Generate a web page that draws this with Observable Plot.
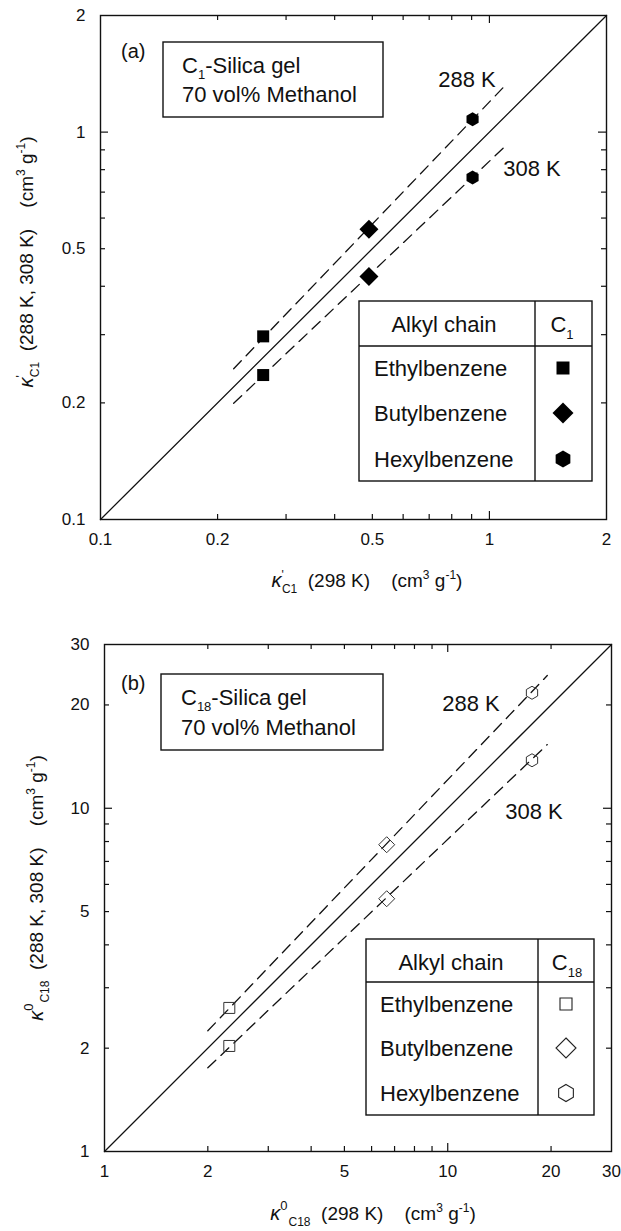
<!DOCTYPE html>
<html><head><meta charset="utf-8">
<script src="https://cdn.jsdelivr.net/npm/d3@7"></script>
<script src="https://cdn.jsdelivr.net/npm/@observablehq/plot@0.6"></script>
<style>
html,body{margin:0;padding:0;background:#fff;overflow:hidden}
#chart svg{display:block}
</style></head><body><div id="chart"></div>
<script>
// ---------- data ----------
const chains = ["Ethylbenzene", "Butylbenzene", "Hexylbenzene"];
const chainSymbols = ["square", "diamond", "hexagon"];

// (a) C1-silica gel
const c1_k298 = [0.262, 0.490, 0.905];
const c1_k288 = [0.297, 0.561, 1.079];
const c1_k308 = [0.236, 0.424, 0.764];
const c1_fitX   = [0.22, 1.11];
const c1_fit288 = [0.245, 1.335];
const c1_fit308 = [0.1995, 0.929];
const c1_domain = [0.1, 2];
const c1_minorTicks = [0.2, 0.3, 0.4, 0.5, 0.6, 0.7, 0.8, 0.9];
const c1_majorTicks = [1];
const c1_tickLabels = [0.1, 0.2, 0.5, 1, 2];

// (b) C18-silica gel
const c18_k298 = [2.31, 6.64, 17.6];
const c18_k288 = [2.62, 7.83, 21.7];
const c18_k308 = [2.03, 5.45, 13.8];
const c18_fitX   = [2.0, 19.5];
const c18_fit288 = [2.247, 24.36];
const c18_fit308 = [1.753, 15.33];
const c18_domain = [1, 30];
const c18_minorTicks = [2, 3, 4, 5, 6, 7, 8, 9, 20];
const c18_majorTicks = [10];
const c18_tickLabels = [1, 2, 5, 10, 20, 30];

// ---------- helpers ----------
const FONT = "'Liberation Sans', Arial, Helvetica, sans-serif";
function sym(kind) {
  return {draw(ctx, size) {
    const r = Math.sqrt(size / Math.PI);
    if (kind === "square") { ctx.moveTo(-r, -r); ctx.lineTo(r, -r); ctx.lineTo(r, r); ctx.lineTo(-r, r); ctx.closePath(); }
    else if (kind === "diamond") { ctx.moveTo(0, -r); ctx.lineTo(r, 0); ctx.lineTo(0, r); ctx.lineTo(-r, 0); ctx.closePath(); }
    else { for (let k = 0; k < 6; k++) { const a = -Math.PI / 2 + k * Math.PI / 3; const px = r * Math.cos(a), py = r * Math.sin(a); if (k) ctx.lineTo(px, py); else ctx.moveTo(px, py); } ctx.closePath(); }
  }};
}
function symPath(kind, r) { const p = d3.path(); sym(kind).draw(p, Math.PI * r * r); return p.toString(); }

function panel(o) {
  const W = 621;
  const iw = W - o.ml - o.mr, ih = o.height - o.mt - o.mb;
  const tk = {stroke: "#111", strokeWidth: 1.2};
  const marks = [
    Plot.frame({stroke: "#111", strokeWidth: 1.4}),
    Plot.tickX(o.minor, {x: d => d, insetTop: ih - 5, ...tk}),
    Plot.tickX(o.minor, {x: d => d, insetBottom: ih - 5, ...tk}),
    Plot.tickX(o.major, {x: d => d, insetTop: ih - 8, ...tk}),
    Plot.tickX(o.major, {x: d => d, insetBottom: ih - 8, ...tk}),
    Plot.tickY(o.minor, {y: d => d, insetRight: iw - 5, ...tk}),
    Plot.tickY(o.minor, {y: d => d, insetLeft: iw - 5, ...tk}),
    Plot.tickY(o.major, {y: d => d, insetRight: iw - 8, ...tk}),
    Plot.tickY(o.major, {y: d => d, insetLeft: iw - 8, ...tk}),
    Plot.axisX({ticks: o.labels, tickSize: 0, tickPadding: 13, tickFormat: d => String(d), label: null, fill: "#111", fontSize: 17}),
    Plot.axisY({ticks: o.labels, tickSize: 0, tickPadding: 15, tickFormat: d => String(d), label: null, fill: "#111", fontSize: 17}),
    Plot.line(o.domain.map(v => [v, v]), {x: d => d[0], y: d => d[1], stroke: "#111", strokeWidth: 1.3}),
    Plot.line(o.fitX.map((x, i) => [x, o.fit288[i]]), {x: d => d[0], y: d => d[1], stroke: "#111", strokeWidth: 1.3, strokeDasharray: "11,7"}),
    Plot.line(o.fitX.map((x, i) => [x, o.fit308[i]]), {x: d => d[0], y: d => d[1], stroke: "#111", strokeWidth: 1.3, strokeDasharray: "11,7"})
  ];
  chains.forEach((c, i) => {
    const pts = [[o.k298[i], o.k288[i]], [o.k298[i], o.k308[i]]];
    marks.push(Plot.dot(pts, {
      x: d => d[0], y: d => d[1], symbol: sym(chainSymbols[i]), r: o.dotR[i],
      fill: o.filled ? "#000" : "none", stroke: o.filled ? "none" : "#333", strokeWidth: 1
    }));
  });
  return Plot.plot({
    width: W, height: o.height,
    marginLeft: o.ml, marginRight: o.mr, marginTop: o.mt, marginBottom: o.mb,
    x: {type: "log", domain: o.domain},
    y: {type: "log", domain: o.domain},
    style: {fontFamily: FONT, fontSize: "17px", color: "#111", background: "#fff", overflow: "visible"},
    marks
  });
}

function addText(g, x, y, size, parts, anchor = "start", rotate = false) {
  const t = g.append("text")
    .attr("transform", `translate(${x},${y})` + (rotate ? " rotate(-90)" : ""))
    .attr("text-anchor", anchor).attr("font-size", size).attr("fill", "#111")
    .attr("font-family", FONT).attr("xml:space", "preserve").style("white-space", "pre");
  for (const p of parts) {
    const s = t.append("tspan").text(p.t);
    if (p.size) s.attr("font-size", p.size);
    if (p.dy) s.attr("dy", p.dy);
    if (p.dx) s.attr("dx", p.dx);
    if (p.italic) s.attr("font-style", "italic");
  }
  return t;
}

function decorate(svg, o) {
  const g = d3.select(svg).append("g");
  addText(g, o.letter.x, o.letter.y, 20, [{t: o.letter.t}]);
  g.append("rect").attr("x", o.box.x0).attr("y", o.box.y0).attr("width", o.box.x1 - o.box.x0).attr("height", o.box.y1 - o.box.y0)
    .attr("fill", "#fff").attr("stroke", "#111").attr("stroke-width", 1.4);
  addText(g, o.box.tx, o.box.b1, 22, [{t: "C"}, {t: o.phase, size: 13, dy: 6}, {t: "-Silica gel", dy: -6}]);
  addText(g, o.box.tx, o.box.b2, 22, [{t: "70 vol% Methanol"}]);
  addText(g, o.t288.x, o.t288.y, 22, [{t: "288 K"}], "middle");
  addText(g, o.t308.x, o.t308.y, 22, [{t: "308 K"}], "middle");
  const L = o.leg;
  g.append("rect").attr("x", L.x0).attr("y", L.y0).attr("width", L.x1 - L.x0).attr("height", L.y1 - L.y0)
    .attr("fill", "#fff").attr("stroke", "#111").attr("stroke-width", 1.4);
  g.append("line").attr("x1", L.x0).attr("x2", L.x1).attr("y1", L.hy).attr("y2", L.hy).attr("stroke", "#111").attr("stroke-width", 1.4);
  g.append("line").attr("x1", L.dx).attr("x2", L.dx).attr("y1", L.y0).attr("y2", L.y1).attr("stroke", "#111").attr("stroke-width", 1.4);
  addText(g, L.hx, L.hb, 22, [{t: "Alkyl chain"}], "middle");
  addText(g, L.cx, L.hb, 22, [{t: "C"}, {t: o.phase, size: 13, dy: 7}], "middle");
  chains.forEach((c, i) => {
    addText(g, L.tx, L.rows[i] + 8, 22, [{t: c}]);
    g.append("path").attr("transform", `translate(${L.sx},${L.rows[i]})`).attr("d", symPath(chainSymbols[i], L.symR[i]))
      .attr("fill", o.filled ? "#000" : "none").attr("stroke", o.filled ? "none" : "#222").attr("stroke-width", 1.1);
  });
  const kap = o.filled
    ? [{t: "κ", size: 20, italic: true}, {t: "'", size: 12, dy: -8}, {t: "C1", size: 12, dy: 14, dx: -2}]
    : [{t: "κ", size: 20, italic: true}, {t: "0", size: 13, dy: -10}, {t: "C18", size: 12, dy: 16, dx: 1}];
  const back = -6;
  addText(g, o.xt.x, o.xt.y, 19, [...kap, {t: "  (298 K)    (cm", dy: back}, {t: "3", size: 12, dy: -8}, {t: " g", dy: 8}, {t: "-1", size: 12, dy: -8}, {t: ")", dy: 8}], "middle");
  addText(g, o.yt.x, o.yt.y, 19, [...kap, {t: "  (288 K, 308 K)    (cm", dy: back}, {t: "3", size: 12, dy: -8}, {t: " g", dy: 8}, {t: "-1", size: 12, dy: -8}, {t: ")", dy: 8}], "middle", true);
}

// ---------- panel (a) ----------
const svgA = panel({
  height: 610, ml: 100, mr: 15, mt: 15, mb: 91,
  domain: c1_domain, minor: c1_minorTicks, major: c1_majorTicks, labels: c1_tickLabels,
  k298: c1_k298, k288: c1_k288, k308: c1_k308,
  fitX: c1_fitX, fit288: c1_fit288, fit308: c1_fit308,
  dotR: [6, 9.5, 7], filled: true
});
decorate(svgA, {
  filled: true, phase: "1",
  letter: {t: "(a)", x: 121, y: 58},
  box: {x0: 163, x1: 383, y0: 42, y1: 117, tx: 182, b1: 73, b2: 102},
  t288: {x: 467, y: 87}, t308: {x: 532, y: 176},
  leg: {x0: 359, x1: 592, y0: 301, y1: 481, hy: 346, dx: 535, hx: 444, cx: 562, hb: 332, tx: 374, sx: 563, rows: [368, 413, 459], symR: [6.5, 10.5, 8.5]},
  xt: {x: 367, y: 587}, yt: {x: 33, y: 262}
});

// ---------- panel (b) ----------
const svgB = panel({
  height: 621, ml: 104, mr: 10, mt: 34, mb: 80,
  domain: c18_domain, minor: c18_minorTicks, major: c18_majorTicks, labels: c18_tickLabels,
  k298: c18_k298, k288: c18_k288, k308: c18_k308,
  fitX: c18_fitX, fit288: c18_fit288, fit308: c18_fit308,
  dotR: [5.5, 8, 6.5], filled: false
});
decorate(svgB, {
  filled: false, phase: "18",
  letter: {t: "(b)", x: 121, y: 80},
  box: {x0: 161, x1: 383, y0: 64, y1: 140, tx: 181, b1: 95, b2: 125},
  t288: {x: 471, y: 101}, t308: {x: 534, y: 209},
  leg: {x0: 366, x1: 594, y0: 329, y1: 505, hy: 372, dx: 538, hx: 451, cx: 567, hb: 360, tx: 380, sx: 566, rows: [394, 438, 483], symR: [6, 10, 8.5]},
  xt: {x: 373, y: 610}, yt: {x: 43, y: 278}
});

document.getElementById("chart").append(svgA, svgB);
</script>
</body></html>
